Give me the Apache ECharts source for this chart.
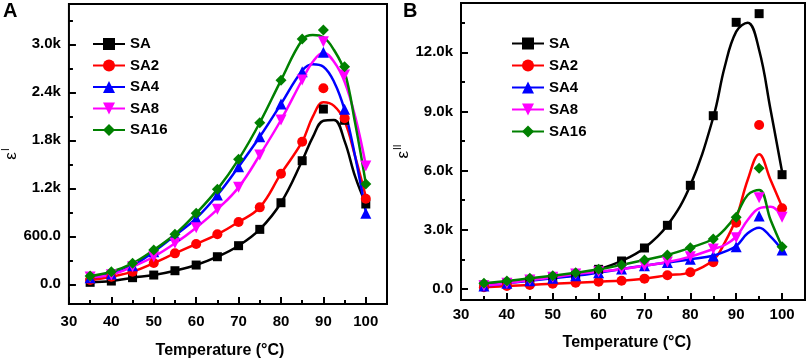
<!DOCTYPE html>
<html>
<head>
<meta charset="utf-8">
<script src="https://cdn.jsdelivr.net/npm/echarts@6/dist/echarts.min.js"></script>
<style>
  html, body { margin: 0; padding: 0; background: #fff; }
  #chart { width: 809px; height: 364px; }
</style>
</head>
<body>
<div id="chart"></div>
<script>
// measured temperatures and the x positions the fitted curves were read at
const temps = [35, 40, 45, 50, 55, 60, 65, 70, 75, 80, 85, 90, 95, 100];
const fitTemps = [35, 40, 45, 50, 55, 60, 65, 70, 75, 80, 85, 87.5, 90, 92.5, 95, 97.5, 100];

const names = ['SA', 'SA2', 'SA4', 'SA8', 'SA16'];
const colors = ['#000000', '#ff0000', '#0000ff', '#ff00ff', '#008000'];
const symbols = ['rect', 'circle', 'triangle', 'triangle', 'diamond'];
const symbolRot = [0, 0, 0, 180, 0];
const symbolSizes = [9, 10, 11, 11, 11];

// panel A : eps' (measured points)
const saRe   = [25, 41, 83, 116, 170, 241, 345, 483, 687, 1020, 1545, 2191, 2050, 1004];
const sa2Re  = [54, 95, 158, 266, 387, 504, 625, 779, 962, 1383, 1783, 2450, 2075, 1070];
const sa4Re  = [83, 129, 233, 408, 612, 825, 1116, 1470, 1845, 2254, 2658, 2900, 2187, 887];
const sa8Re  = [91, 120, 220, 345, 512, 708, 937, 1212, 1616, 2054, 2554, 3033, 2616, 1479];
const sa16Re = [104, 158, 262, 429, 625, 887, 1187, 1562, 2020, 2550, 3066, 3179, 2720, 1254];

// panel A : fitted curves
const saReFit   = [25, 41, 83, 116, 170, 241, 345, 483, 687, 1020, 1545, 1840, 2045, 2055, 1790, 1345, 1004];
const sa2ReFit  = [54, 95, 158, 266, 387, 504, 625, 779, 962, 1383, 1783, 2096, 2275, 2230, 2040, 1596, 1095];
const sa4ReFit  = [83, 129, 233, 408, 612, 825, 1116, 1470, 1845, 2254, 2670, 2750, 2720, 2533, 2179, 1596, 908];
const sa8ReFit  = [91, 120, 220, 345, 512, 708, 937, 1212, 1616, 2054, 2554, 2783, 2896, 2783, 2533, 2096, 1491];
const sa16ReFit = [104, 158, 262, 429, 625, 887, 1187, 1562, 2020, 2550, 3054, 3116, 3088, 2929, 2658, 2012, 1262];

// panel B : eps'' (measured points)
const saIm   = [203, 321, 456, 591, 710, 997, 1420, 2079, 3228, 5257, 8786, 13520, 13960, 5796];
const sa2Im  = [85, 152, 203, 270, 321, 372, 422, 524, 693, 845, 1352, 3363, 8315, 4091];
const sa4Im  = [152, 287, 422, 541, 676, 828, 1014, 1183, 1340, 1504, 1673, 2146, 3700, 1977];
const sa8Im  = [169, 287, 456, 591, 760, 879, 997, 1183, 1370, 1639, 2028, 2602, 4630, 3634];
const sa16Im = [287, 406, 541, 676, 828, 997, 1217, 1470, 1724, 2095, 2535, 3634, 6118, 2146];

// panel B : fitted curves
const saImFit   = [203, 321, 456, 591, 710, 997, 1420, 2079, 3228, 5257, 8700, 11270, 13045, 13500, 12117, 9075, 5947];
const sa2ImFit  = [85, 152, 203, 270, 321, 372, 422, 524, 693, 845, 1470, 2348, 3584, 5526, 6829, 5526, 4172];
const sa4ImFit  = [152, 287, 422, 541, 676, 828, 1014, 1183, 1340, 1504, 1690, 1893, 2180, 2823, 3108, 2652, 1977];
const sa8ImFit  = [169, 287, 456, 591, 760, 879, 997, 1183, 1370, 1639, 2028, 2231, 2652, 3498, 4091, 4175, 3700];
const sa16ImFit = [287, 406, 541, 676, 828, 997, 1217, 1470, 1724, 2095, 2535, 3025, 3752, 4766, 5020, 3498, 2146];

// tick values
const xTicks = [30, 40, 50, 60, 70, 80, 90, 100];
const xMinor = [35, 45, 55, 65, 75, 85, 95];
const yTicksA = [0, 600, 1200, 1800, 2400, 3000];
const yMinorA = [300, 900, 1500, 2100, 2700, 3300];
const yTicksB = [0, 3000, 6000, 9000, 12000];
const yMinorB = [1500, 4500, 7500, 10500, 13500];

const reSets = [saRe, sa2Re, sa4Re, sa8Re, sa16Re];
const reFits = [saReFit, sa2ReFit, sa4ReFit, sa8ReFit, sa16ReFit];
const imSets = [saIm, sa2Im, sa4Im, sa8Im, sa16Im];
const imFits = [saImFit, sa2ImFit, sa4ImFit, sa8ImFit, sa16ImFit];

const FONT = 'Liberation Sans';

let fmtY = v => {
    if (v < 1000) return v.toFixed(1);
    return (v / 1000).toFixed(1) + 'k';
};

let tickStyle = len => ({
    show: true, inside: true, length: len,
    lineStyle: { color: '#000', width: 2 }
});

let xAxes = (gridIndex, labelMargin, nameGap, shift) => [
    {
        gridIndex, type: 'value', min: 30, max: 105, position: 'bottom',
        axisLine: { show: false, onZero: false },
        splitLine: { show: false },
        axisTick: { ...tickStyle(7), customValues: xTicks },
        axisLabel: {
            customValues: xTicks, margin: labelMargin,
            color: '#000', fontFamily: FONT, fontWeight: 'bold', fontSize: 15
        },
        name: 'Temperature (°C)',
        nameLocation: 'middle',
        nameGap: nameGap,
        nameTextStyle: { color: '#000', fontFamily: FONT, fontWeight: 'bold', fontSize: 16, padding: [0, shift, 0, 0] }
    },
    {
        gridIndex, type: 'value', min: 30, max: 105, position: 'bottom',
        axisLine: { show: false, onZero: false },
        splitLine: { show: false },
        axisTick: { ...tickStyle(4), customValues: xMinor },
        axisLabel: { show: false }
    }
];

let yAxes = (gridIndex, min, max, ticks, minor, name, nameGap) => [
    {
        gridIndex, type: 'value', min, max, position: 'left',
        axisLine: { show: false, onZero: false },
        splitLine: { show: false },
        axisTick: { ...tickStyle(7), customValues: ticks },
        axisLabel: {
            customValues: ticks, margin: 8, formatter: fmtY,
            color: '#000', fontFamily: FONT, fontWeight: 'bold', fontSize: 15
        },
        name: name,
        nameLocation: 'middle',
        nameRotate: 90,
        nameGap: nameGap,
        nameTextStyle: {
            color: '#000',
            rich: {
                e: { fontFamily: FONT, fontSize: 17, lineHeight: 20, color: '#000' },
                s: { fontFamily: FONT, fontSize: 10, verticalAlign: 'top', color: '#000', padding: [0, 0, 0, 1] }
            }
        }
    },
    {
        gridIndex, type: 'value', min, max, position: 'left',
        axisLine: { show: false, onZero: false },
        splitLine: { show: false },
        axisTick: { ...tickStyle(4), customValues: minor },
        axisLabel: { show: false }
    }
];

let makeSeries = (fits, pts, axisIndex) => {
    let out = [];
    names.forEach((n, i) => {
        out.push({
            name: n, type: 'line', xAxisIndex: axisIndex, yAxisIndex: axisIndex,
            data: fitTemps.map((t, k) => [t, fits[i][k]]),
            smooth: 0.4, showSymbol: false,
            symbol: symbols[i], symbolRotate: symbolRot[i],
            lineStyle: { color: colors[i], width: 2.5 },
            itemStyle: { color: colors[i] },
            z: 2, silent: true
        });
    });
    names.forEach((n, i) => {
        out.push({
            name: n, type: 'scatter', xAxisIndex: axisIndex, yAxisIndex: axisIndex,
            data: temps.map((t, k) => [t, pts[i][k]]),
            symbol: symbols[i], symbolRotate: symbolRot[i], symbolSize: symbolSizes[i],
            itemStyle: { color: colors[i], opacity: 1 },
            z: 3, silent: true
        });
    });
    return out;
};

let legendFor = (left, top, gap) => ({
    data: names,
    orient: 'vertical',
    left, top,
    itemWidth: 32, itemHeight: 15, itemGap: gap,
    padding: 0,
    textStyle: { color: '#000', fontFamily: FONT, fontWeight: 'bold', fontSize: 15, lineHeight: 15 }
});

let option = {
    animation: false,
    backgroundColor: '#fff',
    title: [
        { text: 'A', left: 3, top: 1, padding: 0, textStyle: { fontFamily: FONT, fontWeight: 'bold', fontSize: 20, color: '#000' } },
        { text: 'B', left: 403, top: 1, padding: 0, textStyle: { fontFamily: FONT, fontWeight: 'bold', fontSize: 20, color: '#000' } }
    ],
    grid: [
        { left: 61, top: 4, width: 326, height: 300, show: true, borderColor: '#000', borderWidth: 2, backgroundColor: 'transparent' },
        { left: 461, top: 3, width: 344, height: 297, show: true, borderColor: '#000', borderWidth: 2, backgroundColor: 'transparent' }
    ],
    legend: [legendFor(92, 36.5, 6.5), legendFor(511, 36, 7)],
    xAxis: [...xAxes(0, 10, 39, 16), ...xAxes(1, 7, 35, 12)],
    yAxis: [
        ...yAxes(0, -246, 3504, yTicksA, yMinorA, '{e|ε}{s|I}', 42),
        ...yAxes(1, -558, 14500, yTicksB, yMinorB, '{e|ε}{s|II}', 38)
    ],
    series: [...makeSeries(reFits, reSets, 0), ...makeSeries(imFits, imSets, 2)]
};

// axis indices: 0/1 belong to grid A, 2/3 to grid B
let chart = echarts.init(document.getElementById('chart'));
chart.setOption(option);
</script>
</body>
</html>
